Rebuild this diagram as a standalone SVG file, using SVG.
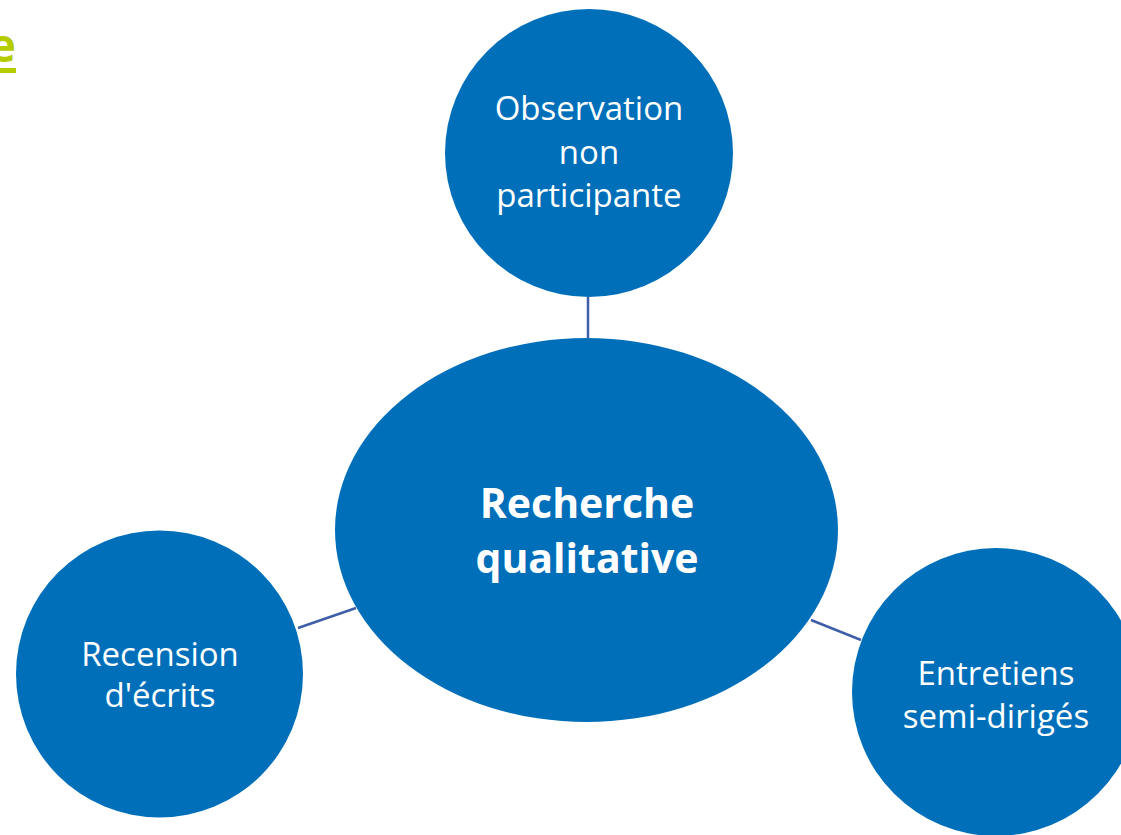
<svg xmlns="http://www.w3.org/2000/svg" width="1121" height="835" viewBox="0 0 1121 835">
<style>
.n{fill:#006fba}
.t{fill:#ffffff;font-family:"Open Sans","Noto Sans",sans-serif;font-size:33px;text-anchor:middle}
.b{fill:#ffffff;font-family:"Open Sans","Noto Sans",sans-serif;font-size:41px;font-weight:bold;text-anchor:middle}
.c{stroke:#3f5ea8;stroke-width:2.5;fill:none}
</style>
<rect width="1121" height="835" fill="#ffffff"/>
<g id="title">
<text x="16" y="62" fill="#b5cc00" font-family="Open Sans, sans-serif" font-size="46" font-weight="bold" text-anchor="end">e</text>
<rect x="0" y="68" width="16" height="5" fill="#b5cc00"/>
</g>
<g id="connectors">
<line class="c" x1="588" y1="297" x2="588" y2="338"/>
<line class="c" x1="298" y1="628" x2="356" y2="608"/>
<line class="c" x1="811" y1="620" x2="861" y2="640"/>
</g>
<g id="center">
<ellipse class="n" cx="586.5" cy="530" rx="251.5" ry="192"/>
<text class="b" x="587" y="518">Recherche</text>
<text class="b" x="587" y="573">qualitative</text>
</g>
<g id="top">
<circle class="n" cx="589" cy="153" r="144"/>
<text class="t" x="589" y="120">Observation</text>
<text class="t" x="589" y="164">non</text>
<text class="t" x="589" y="207">participante</text>
</g>
<g id="left">
<circle class="n" cx="159.5" cy="674" r="143.5"/>
<text class="t" x="160" y="666">Recension</text>
<text class="t" x="160" y="707">d'écrits</text>
</g>
<g id="right">
<circle class="n" cx="996" cy="692" r="144"/>
<text class="t" x="996" y="685">Entretiens</text>
<text class="t" x="996" y="728">semi-dirigés</text>
</g>
</svg>
